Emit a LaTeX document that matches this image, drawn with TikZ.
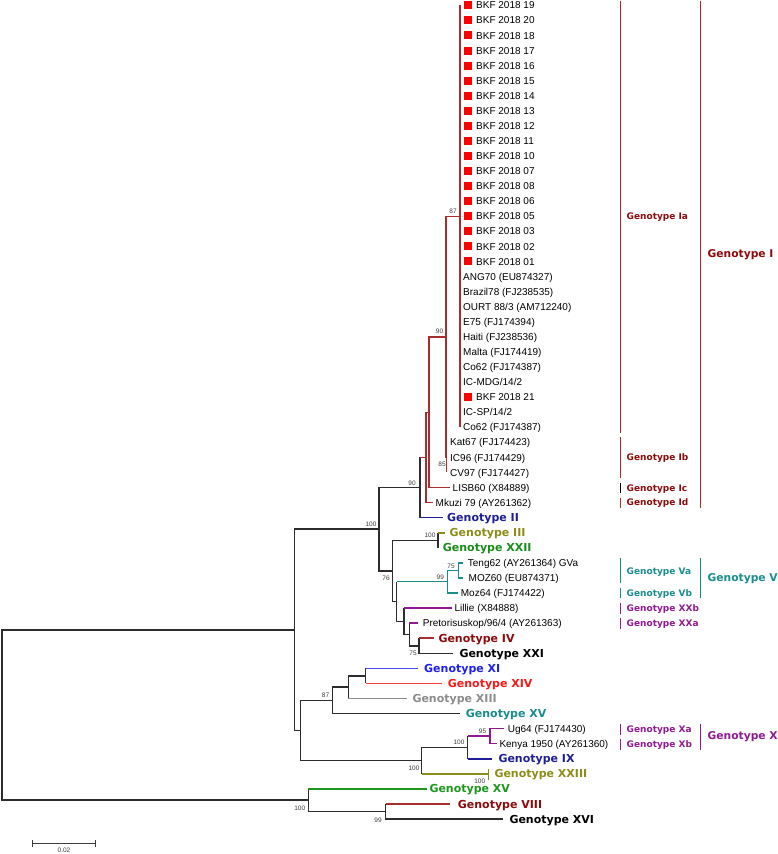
\documentclass[tikz,border=0pt]{standalone}
\usepackage{fontspec}
\setmainfont{Liberation Sans}
\newfontfamily\gfont{DejaVu Sans}
\definecolor{blk}{RGB}{45,45,45}
\definecolor{brred}{RGB}{170,45,45}
\definecolor{txred}{RGB}{140,10,10}
\definecolor{cNavy}{RGB}{30,30,150}
\definecolor{cOlive}{RGB}{140,140,25}
\definecolor{cGreen}{RGB}{25,140,25}
\definecolor{cGreenL}{RGB}{30,150,30}
\definecolor{cTeal}{RGB}{25,140,140}
\definecolor{cPurple}{RGB}{145,25,145}
\definecolor{cBlue}{RGB}{30,30,250}
\definecolor{cBlueLine}{RGB}{80,80,250}
\definecolor{cRed}{RGB}{250,25,25}
\definecolor{cRedLine}{RGB}{250,60,60}
\definecolor{cGray}{RGB}{140,140,140}
\definecolor{bsgray}{RGB}{60,60,60}
\tikzset{
  branch/.style={line width=1.5pt, draw=#1},
  branch/.default=blk,
  leaf/.style={font=\fontsize{10}{12}\selectfont, text=black, inner sep=0pt, anchor=west, text height=7.2pt, text depth=0pt},
  glab/.style={font=\gfont\bfseries\fontsize{11}{13}\selectfont, text=#1, inner sep=0pt, anchor=west, text height=8pt, text depth=0pt},
  sublab/.style={font=\gfont\bfseries\fontsize{9}{11}\selectfont, text=#1, inner sep=0pt, anchor=west, text height=6.6pt, text depth=0pt},
  biglab/.style={font=\gfont\bfseries\fontsize{10.7}{13}\selectfont, text=#1, inner sep=0pt, anchor=west, text height=7.8pt, text depth=0pt},
  bs/.style={font=\fontsize{6.5}{7}\selectfont, text=bsgray, inner sep=0pt, text height=4.7pt, text depth=0pt},
  sq/.style={fill=red, draw=none, minimum size=8pt, inner sep=0pt},
  bracket/.style={line width=1.4pt, draw=#1}
}
\begin{document}
\begin{tikzpicture}[x=1pt,y=-1pt]
\useasboundingbox (0,0) rectangle (777,854);

% ---------- internal nodes ----------
\coordinate (root) at (2,715);
\coordinate (M) at (294.3,629.9);
\coordinate (G) at (379,529.2);
\coordinate (A) at (420,487.5);
\coordinate (B) at (426,457.4);
\coordinate (C) at (429,412.3);
\coordinate (D) at (446,336.8);
\coordinate (E) at (460,216.28);
\coordinate (F) at (446.7,457.4);
\coordinate (H) at (392.7,570.9);
\coordinate (K3) at (438,540.3);
\coordinate (I) at (396.7,601.5);
\coordinate (V) at (447.7,581.7);
\coordinate (Va) at (458.3,570.4);
\coordinate (K) at (404,621.3);
\coordinate (J) at (409.3,634.5);
\coordinate (L) at (419,645.8);
\coordinate (N) at (300.3,730.5);
\coordinate (O) at (332.3,700.4);
\coordinate (Q) at (348.3,687.2);
\coordinate (R) at (365.7,675.9);
\coordinate (P) at (421.7,760.7);
\coordinate (S) at (467.7,747.5);
\coordinate (T) at (490,736.2);
\coordinate (U) at (308.3,800.2);
\coordinate (W) at (385.7,811.5);
\coordinate (Etop) at (460,5.3);
\coordinate (Ebot) at (460,427.26);
\coordinate (Ftop) at (446.7,442.33);
\coordinate (Fbot) at (446.7,472.47);

% ---------- tips ----------
\coordinate (tII) at (443,517.68);
\coordinate (tMk) at (433,502.61);
\coordinate (tLI) at (450,487.54);
\coordinate (tIII) at (445,532.75);
\coordinate (tXXII) at (438,547.82);
\coordinate (tTeng) at (463.3,562.89);
\coordinate (tMOZ60) at (463.3,577.96);
\coordinate (tMoz64) at (458,593.03);
\coordinate (tLil) at (451.7,608.1);
\coordinate (tPre) at (418,623.17);
\coordinate (tIV) at (434,638.24);
\coordinate (tXXI) at (453,653.31);
\coordinate (tXI) at (418.3,668.38);
\coordinate (tXIV) at (441.7,683.45);
\coordinate (tXIII) at (406.7,698.52);
\coordinate (tXVt) at (460,713.59);
\coordinate (tUg) at (504,728.66);
\coordinate (tKen) at (496.7,743.73);
\coordinate (tIX) at (492.3,758.8);
\coordinate (tXXIII) at (488.3,773.87);
\coordinate (tXVg) at (426.7,788.94);
\coordinate (tVIII) at (450,804.01);
\coordinate (tXVI) at (503.3,819.08);

% ---------- branches ----------
\draw[branch] (root) |- (M);
\draw[branch] (root) |- (U);
\draw[branch] (M) |- (G);
\draw[branch] (M) |- (N);
\draw[branch] (G) |- (A);
\draw[branch] (G) |- (H);
\draw[branch] (A) -- (A |- B);
\draw[branch=brred] (A |- B) -- (B);
\draw[branch] (A) -- (A |- tII);
\draw[branch=cNavy] (A |- tII) -- (tII);
\draw[branch=brred] (B) |- (C);
\draw[branch=brred] (B) |- (tMk);
\draw[branch=brred] (C) |- (D);
\draw[branch=brred] (C) |- (tLI);
\draw[branch=brred] (D) |- (E);
\draw[branch=brred] (D) |- (F);
\draw[branch=brred] (Etop) -- (Ebot);
\draw[branch=brred] (Ftop) -- (Fbot);
\draw[branch] (H) |- (K3);
\draw[branch] (H) |- (I);
\draw[branch] (K3) -- (K3 |- tIII);
\draw[branch=cOlive] (K3 |- tIII) -- (tIII);
\draw[branch] (K3) -- (tXXII);
\draw[branch] (I) -- (I |- V);
\draw[branch=cTeal] (I |- V) -- (V);
\draw[branch] (I) |- (K);
\draw[branch=cTeal] (V) |- (Va);
\draw[branch=cTeal] (V) |- (tMoz64);
\draw[branch=cTeal] (Va) |- (tTeng);
\draw[branch=cTeal] (Va) |- (tMOZ60);
\draw[branch] (K) -- (K |- tLil);
\draw[branch=cPurple] (K |- tLil) -- (tLil);
\draw[branch] (K) |- (J);
\draw[branch] (J) -- (J |- tPre);
\draw[branch=cPurple] (J |- tPre) -- (tPre);
\draw[branch] (J) |- (L);
\draw[branch] (L) -- (L |- tIV);
\draw[branch=brred] (L |- tIV) -- (tIV);
\draw[branch] (L) |- (tXXI);
\draw[branch] (N) |- (O);
\draw[branch] (N) |- (P);
\draw[branch] (O) |- (Q);
\draw[branch] (O) |- (tXVt);
\draw[branch] (Q) |- (R);
\draw[branch] (Q) -- (Q |- tXIII);
\draw[branch=cGray] (Q |- tXIII) -- (tXIII);
\draw[branch] (R) -- (R |- tXI);
\draw[branch=cBlueLine] (R |- tXI) -- (tXI);
\draw[branch] (R) -- (R |- tXIV);
\draw[branch=cRedLine] (R |- tXIV) -- (tXIV);
\draw[branch] (P) |- (S);
\draw[branch] (P) -- (P |- tXXIII);
\draw[branch=cOlive] (P |- tXXIII) -- (tXXIII);
\draw[line width=0.8pt, draw=cOlive] (488.3,769) -- (488.3,780);
\draw[branch] (S) -- (S |- T);
\draw[branch=cPurple] (S |- T) -- (T);
\draw[branch] (S) -- (S |- tIX);
\draw[branch=cNavy] (S |- tIX) -- (tIX);
\draw[branch=cPurple] (T) |- (tUg);
\draw[branch=cPurple] (T) |- (tKen);
\draw[branch] (U) -- (U |- tXVg);
\draw[branch=cGreenL] (U |- tXVg) -- (tXVg);
\draw[branch] (U) |- (W);
\draw[branch] (W) -- (W |- tVIII);
\draw[branch=brred] (W |- tVIII) -- (tVIII);
\draw[branch] (W) |- (tXVI);

% ---------- Genotype Ia leaves ----------
\foreach \i/\t in {0/19,1/20,2/18,3/17,4/16,5/15,6/14,7/13,8/12,9/11,10/10,11/07,12/08,13/06,14/05,15/03,16/02,17/01,26/21}{
  \node[sq] (s\i) at (468,{5.3+15.07*\i}) {};
  \node[leaf] (l\i) at (476,{5.3+15.07*\i}) {BKF 2018 \t};
}
\node[leaf] (l18) at (463,{5.3+15.07*18}) {ANG70 (EU874327)};
\node[leaf] (l19) at (463,{5.3+15.07*19}) {Brazil78 (FJ238535)};
\node[leaf] (l20) at (463,{5.3+15.07*20}) {OURT 88/3 (AM712240)};
\node[leaf] (l21) at (463,{5.3+15.07*21}) {E75 (FJ174394)};
\node[leaf] (l22) at (463,{5.3+15.07*22}) {Haiti (FJ238536)};
\node[leaf] (l23) at (463,{5.3+15.07*23}) {Malta (FJ174419)};
\node[leaf] (l24) at (463,{5.3+15.07*24}) {Co62 (FJ174387)};
\node[leaf] (l25) at (463,{5.3+15.07*25}) {IC-MDG/14/2};
\node[leaf] (l27) at (463,{5.3+15.07*27}) {IC-SP/14/2};
\node[leaf] (l28) at (463,{5.3+15.07*28}) {Co62 (FJ174387)};
\node[leaf] (l29) at (450,{5.3+15.07*29}) {Kat67 (FJ174423)};
\node[leaf] (l30) at (450,{5.3+15.07*30}) {IC96 (FJ174429)};
\node[leaf] (l31) at (450,{5.3+15.07*31}) {CV97 (FJ174427)};
\node[leaf] (l32) at (452.5,{5.3+15.07*32}) {LISB60 (X84889)};
\node[leaf] (l33) at (435.5,{5.3+15.07*33}) {Mkuzi 79 (AY261362)};
\node[glab=cNavy] (l34) at (447,{5.3+15.07*34}) {Genotype II};
\node[glab=cOlive] (l35) at (449.5,{5.3+15.07*35}) {Genotype III};
\node[glab=cGreen] (l36) at (442.7,{5.3+15.07*36}) {Genotype XXII};
\node[leaf] (l37) at (467.7,{5.3+15.07*37}) {Teng62 (AY261364) GVa};
\node[leaf] (l38) at (468.5,{5.3+15.07*38}) {MOZ60 (EU874371)};
\node[leaf] (l39) at (460.7,{5.3+15.07*39}) {Moz64 (FJ174422)};
\node[leaf] (l40) at (454.3,{5.3+15.07*40}) {Lillie (X84888)};
\node[leaf] (l41) at (422.7,{5.3+15.07*41}) {Pretorisuskop/96/4 (AY261363)};
\node[glab=txred] (l42) at (438.3,{5.3+15.07*42}) {Genotype IV};
\node[glab=black] (l43) at (459.3,{5.3+15.07*43}) {Genotype XXI};
\node[glab=cBlue] (l44) at (424,{5.3+15.07*44}) {Genotype XI};
\node[glab=cRed] (l45) at (447.7,{5.3+15.07*45}) {Genotype XIV};
\node[glab=cGray] (l46) at (412.3,{5.3+15.07*46}) {Genotype XIII};
\node[glab=cTeal] (l47) at (465.7,{5.3+15.07*47}) {Genotype XV};
\node[leaf] (l48) at (507.7,{5.3+15.07*48}) {Ug64 (FJ174430)};
\node[leaf] (l49) at (499.3,{5.3+15.07*49}) {Kenya 1950 (AY261360)};
\node[glab=cNavy] (l50) at (498.3,{5.3+15.07*50}) {Genotype IX};
\node[glab=cOlive] (l51) at (494.3,{5.3+15.07*51}) {Genotype XXIII};
\node[glab=cGreenL] (l52) at (429.3,{5.3+15.07*52}) {Genotype XV};
\node[glab=txred] (l53) at (457.7,{5.3+15.07*53}) {Genotype VIII};
\node[glab=black] (l54) at (509.3,{5.3+15.07*54}) {Genotype XVI};

% ---------- bootstrap values ----------
\node[bs] (b1) at (453,211) {87};
\node[bs] (b2) at (439.5,331) {90};
\node[bs] (b3) at (442,464.5) {85};
\node[bs] (b4) at (412,483) {90};
\node[bs] (b5) at (371,524) {100};
\node[bs] (b6) at (430,535.5) {100};
\node[bs] (b7) at (386,578.5) {76};
\node[bs] (b8) at (451,565.7) {75};
\node[bs] (b9) at (440.3,577) {99};
\node[bs] (b10) at (413,653) {75};
\node[bs] (b11) at (325.5,695) {87};
\node[bs] (b12) at (482.5,731) {95};
\node[bs] (b13) at (459,742.5) {100};
\node[bs] (b14) at (414,768.5) {100};
\node[bs] (b15) at (479.7,781.3) {100};
\node[bs] (b16) at (299.7,808.2) {100};
\node[bs] (b17) at (378,820) {99};

% ---------- clade brackets ----------
\draw[bracket=brred] (620.3,0.5) -- (620.3,433);
\draw[bracket=brred] (620.3,437) -- (620.3,478);
\draw[bracket=black] (620.3,483) -- (620.3,493);
\draw[bracket=brred] (620.3,498) -- (620.3,508);
\draw[bracket=brred] (700.7,0.5) -- (700.7,508.3);
\node[sublab=txred] (gIa) at (626.5,216) {Genotype Ia};
\node[sublab=txred] (gIb) at (626.5,457.3) {Genotype Ib};
\node[sublab=txred] (gIc) at (626.5,487.7) {Genotype Ic};
\node[sublab=txred] (gId) at (626.5,502.3) {Genotype Id};
\node[biglab=txred] (gI) at (707.5,254) {Genotype I};

\draw[bracket=cTeal] (620.3,558.3) -- (620.3,583.3);
\draw[bracket=cTeal] (620.3,588.3) -- (620.3,598.3);
\draw[bracket=cTeal] (700.7,558.3) -- (700.7,598.3);
\node[sublab=cTeal] (gVa) at (626.5,570.7) {Genotype Va};
\node[sublab=cTeal] (gVb) at (626.5,592.7) {Genotype Vb};
\node[biglab=cTeal] (gV) at (707.5,577.7) {Genotype V};

\draw[bracket=cPurple] (620.3,603.3) -- (620.3,614);
\draw[bracket=cPurple] (620.3,618.3) -- (620.3,629.3);
\node[sublab=cPurple] (gXXb) at (626.5,608.3) {Genotype XXb};
\node[sublab=cPurple] (gXXa) at (626.5,623.3) {Genotype XXa};

\draw[bracket=cPurple] (620.3,724) -- (620.3,735);
\draw[bracket=cPurple] (620.3,739) -- (620.3,750);
\draw[bracket=cPurple] (700.7,724) -- (700.7,750);
\node[sublab=cPurple] (gXa) at (626.5,729) {Genotype Xa};
\node[sublab=cPurple] (gXb) at (626.5,744) {Genotype Xb};
\node[biglab=cPurple] (gX) at (707.5,735.7) {Genotype X};

% ---------- scale bar ----------
\draw[line width=1pt, draw=bsgray] (32.3,843.3) -- (95.7,843.3);
\draw[line width=0.8pt, draw=bsgray] (32.3,839.5) -- (32.3,847);
\draw[line width=0.8pt, draw=bsgray] (95.7,839.5) -- (95.7,847);
\node[bs] (scale) at (64,850.5) {0.02};
\end{tikzpicture}
\end{document}
